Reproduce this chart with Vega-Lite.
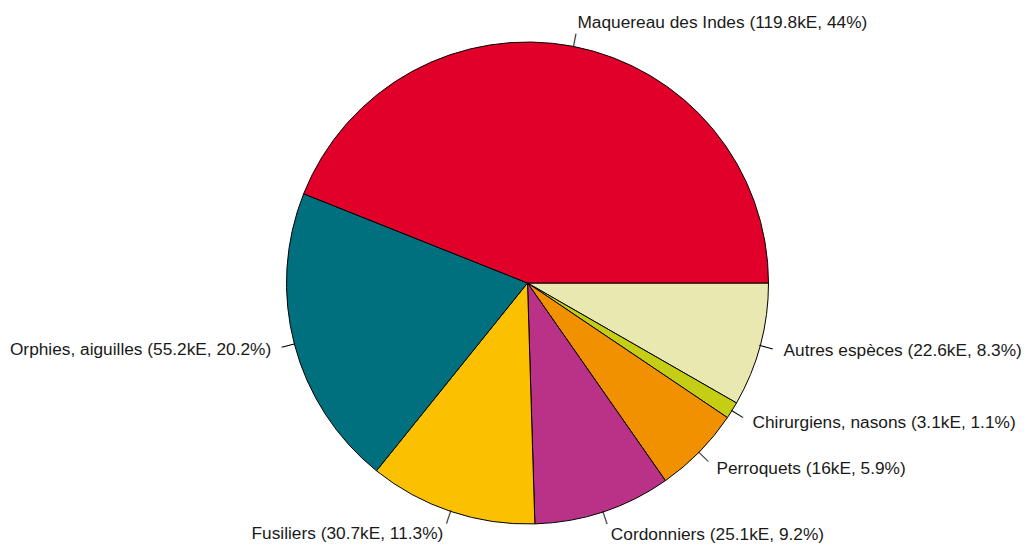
{
  "$schema": "https://vega.github.io/schema/vega-lite/v6.json",
  "autosize": {"type": "none"},
  "padding": {"left": 40, "top": 21, "right": 12, "bottom": 0},
  "width": 975,
  "height": 524,
  "background": "white",
  "view": {"stroke": null},
  "data": {
    "values": [
      {"ord": 1, "cat": "Autres espèces", "value": 22.6, "label": "Autres espèces (22.6kE, 8.3%)"},
      {"ord": 2, "cat": "Chirurgiens, nasons", "value": 3.1, "label": "Chirurgiens, nasons (3.1kE, 1.1%)"},
      {"ord": 3, "cat": "Perroquets", "value": 16, "label": "Perroquets (16kE, 5.9%)"},
      {"ord": 4, "cat": "Cordonniers", "value": 25.1, "label": "Cordonniers (25.1kE, 9.2%)"},
      {"ord": 5, "cat": "Fusiliers", "value": 30.7, "label": "Fusiliers (30.7kE, 11.3%)"},
      {"ord": 6, "cat": "Orphies, aiguilles", "value": 55.2, "label": "Orphies, aiguilles (55.2kE, 20.2%)"},
      {"ord": 7, "cat": "Maquereau des Indes", "value": 119.8, "label": "Maquereau des Indes (119.8kE, 44%)"}
    ]
  },
  "encoding": {
    "theta": {"field": "value", "type": "quantitative", "stack": true, "scale": {"range": [-4.71238898, 1.57079633]}},
    "order": {"field": "ord", "type": "quantitative", "sort": "ascending"}
  },
  "layer": [
    {
      "mark": {"type": "arc", "outerRadius": 241, "stroke": "black", "strokeWidth": 1},
      "encoding": {
        "color": {
          "field": "cat", "type": "nominal", "legend": null,
          "scale": {
            "domain": ["Maquereau des Indes", "Orphies, aiguilles", "Fusiliers", "Cordonniers", "Perroquets", "Chirurgiens, nasons", "Autres espèces"],
            "range": ["#E0002A", "#00707F", "#FBC000", "#B93287", "#F29100", "#C4CE14", "#E8E8B0"]
          }
        }
      }
    },
    {
      "mark": {"type": "text", "text": "—", "radius": 247, "align": "center", "baseline": "middle", "font": "Liberation Sans", "fontSize": 14, "color": "black",
        "angle": {"expr": "scale('theta', (datum.value_start + datum.value_end) / 2) * 180 / PI - 90"}},
      "encoding": {}
    },
    {
      "mark": {"type": "text", "radius": 265, "align": "left", "baseline": "middle", "font": "Liberation Sans", "fontSize": 17.3, "color": "#1a1a1a"},
      "encoding": {
        "text": {"condition": {"test": "datum.cat === 'Orphies, aiguilles' || datum.cat === 'Fusiliers'", "value": ""}, "field": "label"}
      }
    },
    {
      "mark": {"type": "text", "radius": 265, "align": "right", "baseline": "middle", "font": "Liberation Sans", "fontSize": 17.3, "color": "#1a1a1a"},
      "encoding": {
        "text": {"condition": {"test": "datum.cat === 'Orphies, aiguilles' || datum.cat === 'Fusiliers'", "field": "label"}, "value": ""}
      }
    }
  ]
}
